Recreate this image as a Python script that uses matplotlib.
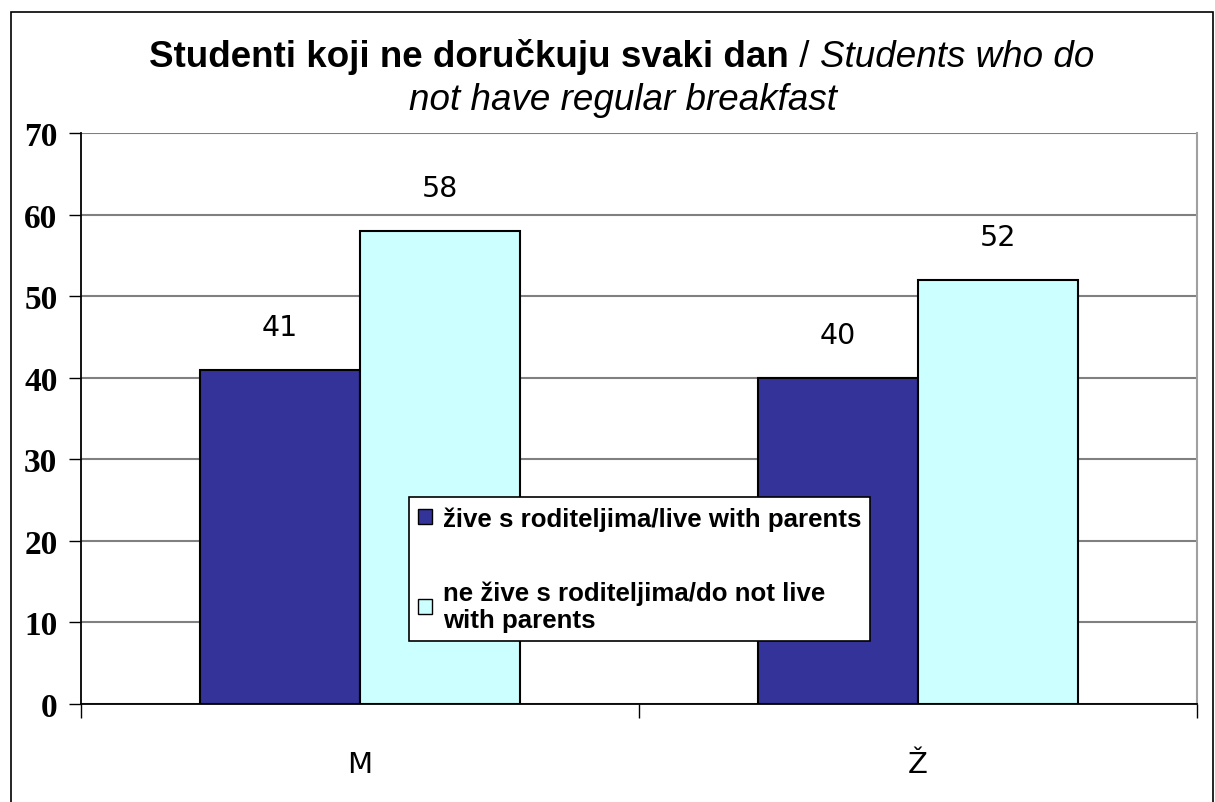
import matplotlib
matplotlib.use("Agg")
import matplotlib.pyplot as plt
import matplotlib.patches as patches
import numpy as np

# data
categories = ["M", "Ž"]
live_with_parents = [41, 40]
not_live_with_parents = [58, 52]
series_labels = ["žive s roditeljima/live with parents",
                 "ne žive s roditeljima/do not live\nwith parents"]
y_ticks = [0, 10, 20, 30, 40, 50, 60, 70]

dark = "#333399"
light = "#CCFFFF"

fig = plt.figure(figsize=(12.15, 8.03), dpi=100)
ax = fig.add_axes([81 / 1215, 98 / 803, 1116 / 1215, 571 / 803])

# outer chart border
fig.patches.append(patches.Rectangle((11 / 1215, -0.01), 1202 / 1215, (803 - 13) / 803 + 0.01,
                                     transform=fig.transFigure, fill=False,
                                     edgecolor="black", linewidth=1.2))

x = np.arange(len(categories))
w = 0.287
b1 = ax.bar(x - w / 2, live_with_parents, w, color=dark, edgecolor="black", linewidth=1.5,
            label=series_labels[0], zorder=3)
b2 = ax.bar(x + w / 2, not_live_with_parents, w, color=light, edgecolor="black", linewidth=1.5,
            label=series_labels[1], zorder=3)

for bars in (b1, b2):
    for r in bars:
        ax.annotate(f"{r.get_height():.0f}", (r.get_x() + r.get_width() / 2, r.get_height()),
                    xytext=(0, 31), textcoords="offset points", ha="center", va="center",
                    fontsize=20.5, family="DejaVu Sans")

ax.set_xlim(-0.5, 1.5)
ax.set_ylim(0, 70)
ax.set_yticks(y_ticks)
ax.set_yticklabels([str(t) for t in y_ticks], family="Liberation Serif", fontweight="bold", fontsize=24)
ax.yaxis.grid(True, color="#808080", linewidth=1.5, zorder=0)
ax.set_axisbelow(True)

# category ticks sit on the boundaries, labels in the middle
ax.set_xticks([-0.5, 0.5, 1.5])
ax.set_xticklabels([])
ax.set_xticks(x, minor=True)
ax.set_xticklabels(categories, minor=True, family="DejaVu Sans", fontsize=21)
ax.tick_params(axis="x", which="minor", length=0, pad=33)
ax.tick_params(axis="x", which="major", length=10, width=1, direction="out")
ax.tick_params(axis="y", length=9, width=1, direction="out", pad=8)

for s in ("left", "bottom"):
    ax.spines[s].set_color("black")
    ax.spines[s].set_linewidth(1.3)
ax.spines["top"].set_visible(False)
ax.spines["right"].set_color("#a0a0a0")
ax.spines["right"].set_linewidth(1.5)

leg = ax.legend(loc="upper left", bbox_to_anchor=(0.294, 0.3625), borderaxespad=0,
                fancybox=False, edgecolor="black", framealpha=1,
                prop={"family": "Liberation Sans", "weight": "bold", "size": 18.6},
                handlelength=0.55, handleheight=0.55, handletextpad=0.4,
                labelspacing=1.95, borderpad=0.35)
leg.get_frame().set_linewidth(1.2)
for h in leg.legend_handles:
    h.set_linewidth(1)
for t in leg.get_texts():
    t.set_linespacing(1.12)

# title in mixed styles
fs = 26.5
t1 = fig.text(149 / 1215, 1 - 57 / 803, "Studenti koji ne doručkuju svaki dan", ha="left", va="center",
              family="Liberation Sans", fontweight="bold", fontsize=fs)
t2 = ax.annotate(" / ", xy=(1, 0), xycoords=t1, va="bottom", ha="left",
                 family="Liberation Sans", fontsize=fs)
t3 = ax.annotate("Students who do", xy=(1, 0), xycoords=t2, va="bottom", ha="left",
                 family="Liberation Sans", style="italic", fontsize=fs)
fig.text(623 / 1215, 1 - 100 / 803, "not have regular breakfast", ha="center", va="center",
         family="Liberation Sans", style="italic", fontsize=fs)

fig.savefig("out.png", dpi=100)
